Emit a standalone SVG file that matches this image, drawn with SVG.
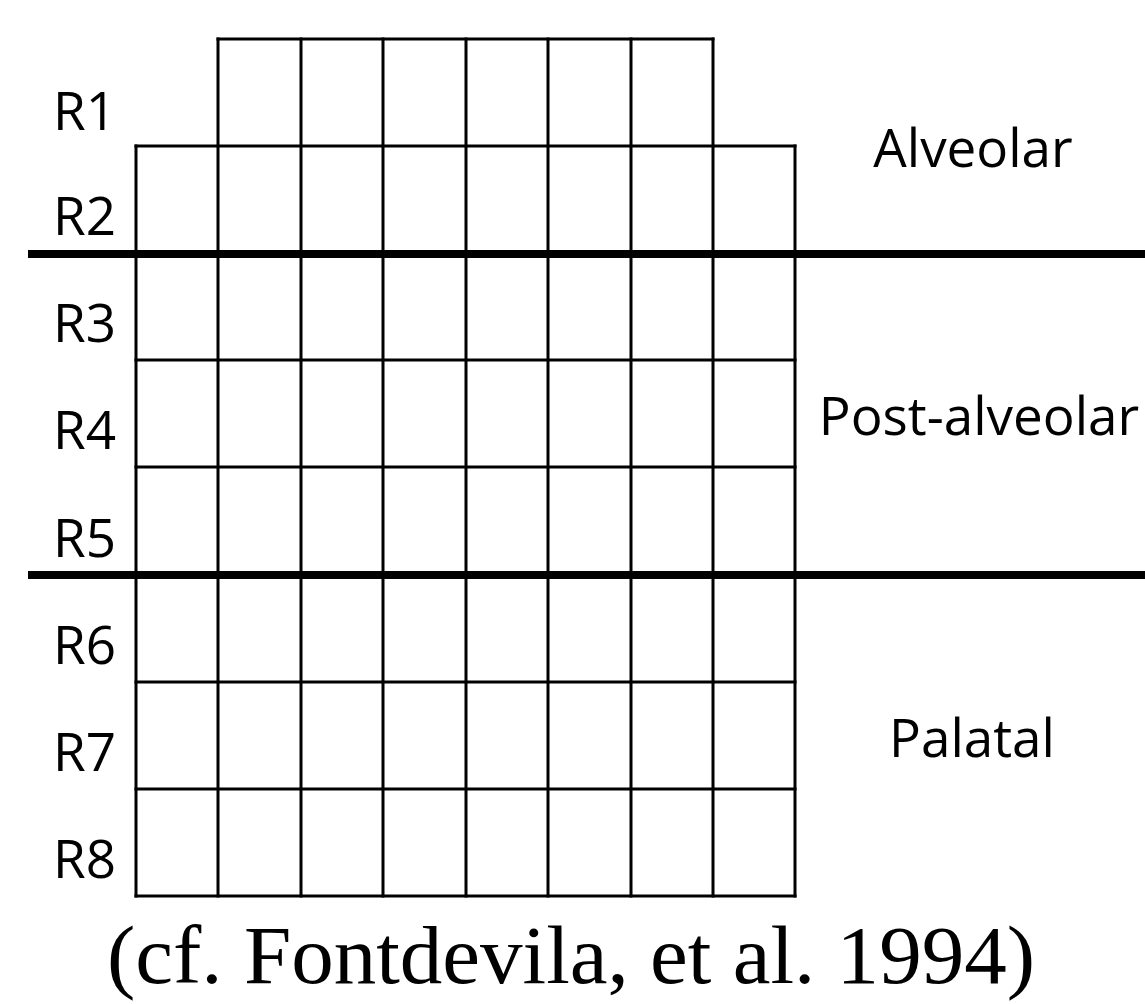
<svg xmlns="http://www.w3.org/2000/svg" width="1145" height="1004" viewBox="0 0 1145 1004">
<style>
.g{stroke:#000;stroke-width:3;fill:none;stroke-linecap:square}
.t{stroke:#000;stroke-width:8}
.lab{font-family:"Open Sans","Liberation Sans",sans-serif;font-size:53px;fill:#000}
.cap{font-family:"Liberation Serif",serif;font-size:82px;fill:#000}
</style>
<rect width="1145" height="1004" fill="#fff"/>
<g id="grid">
<path class="g" d="M218 39H713M136 146H795M136 360H795M136 467H795M136 682H795M136 789H795M136 896H795"/>
<path class="g" d="M136 146V896M218 39V896M301 39V896M383 39V896M466 39V896M548 39V896M631 39V896M713 39V896M795 146V896"/>
</g>
<g id="dividers">
<line class="t" x1="28" y1="254" x2="1145" y2="254"/>
<line class="t" x1="28" y1="575" x2="1145" y2="575"/>
</g>
<g id="rows">
<text class="lab" x="53" y="130">R1</text>
<text class="lab" x="53" y="235">R2</text>
<text class="lab" x="53" y="342">R3</text>
<text class="lab" x="53" y="449">R4</text>
<text class="lab" x="53" y="557">R5</text>
<text class="lab" x="53" y="664">R6</text>
<text class="lab" x="53" y="771">R7</text>
<text class="lab" x="53" y="878">R8</text>
</g>
<g id="regions">
<text class="lab" x="973" y="167" text-anchor="middle">Alveolar</text>
<text class="lab" x="979" y="435" text-anchor="middle">Post-alveolar</text>
<text class="lab" x="972" y="757" text-anchor="middle">Palatal</text>
</g>
<text class="cap" x="571" y="983" text-anchor="middle" textLength="928" lengthAdjust="spacingAndGlyphs">(cf. Fontdevila, et al. 1994)</text>
</svg>
